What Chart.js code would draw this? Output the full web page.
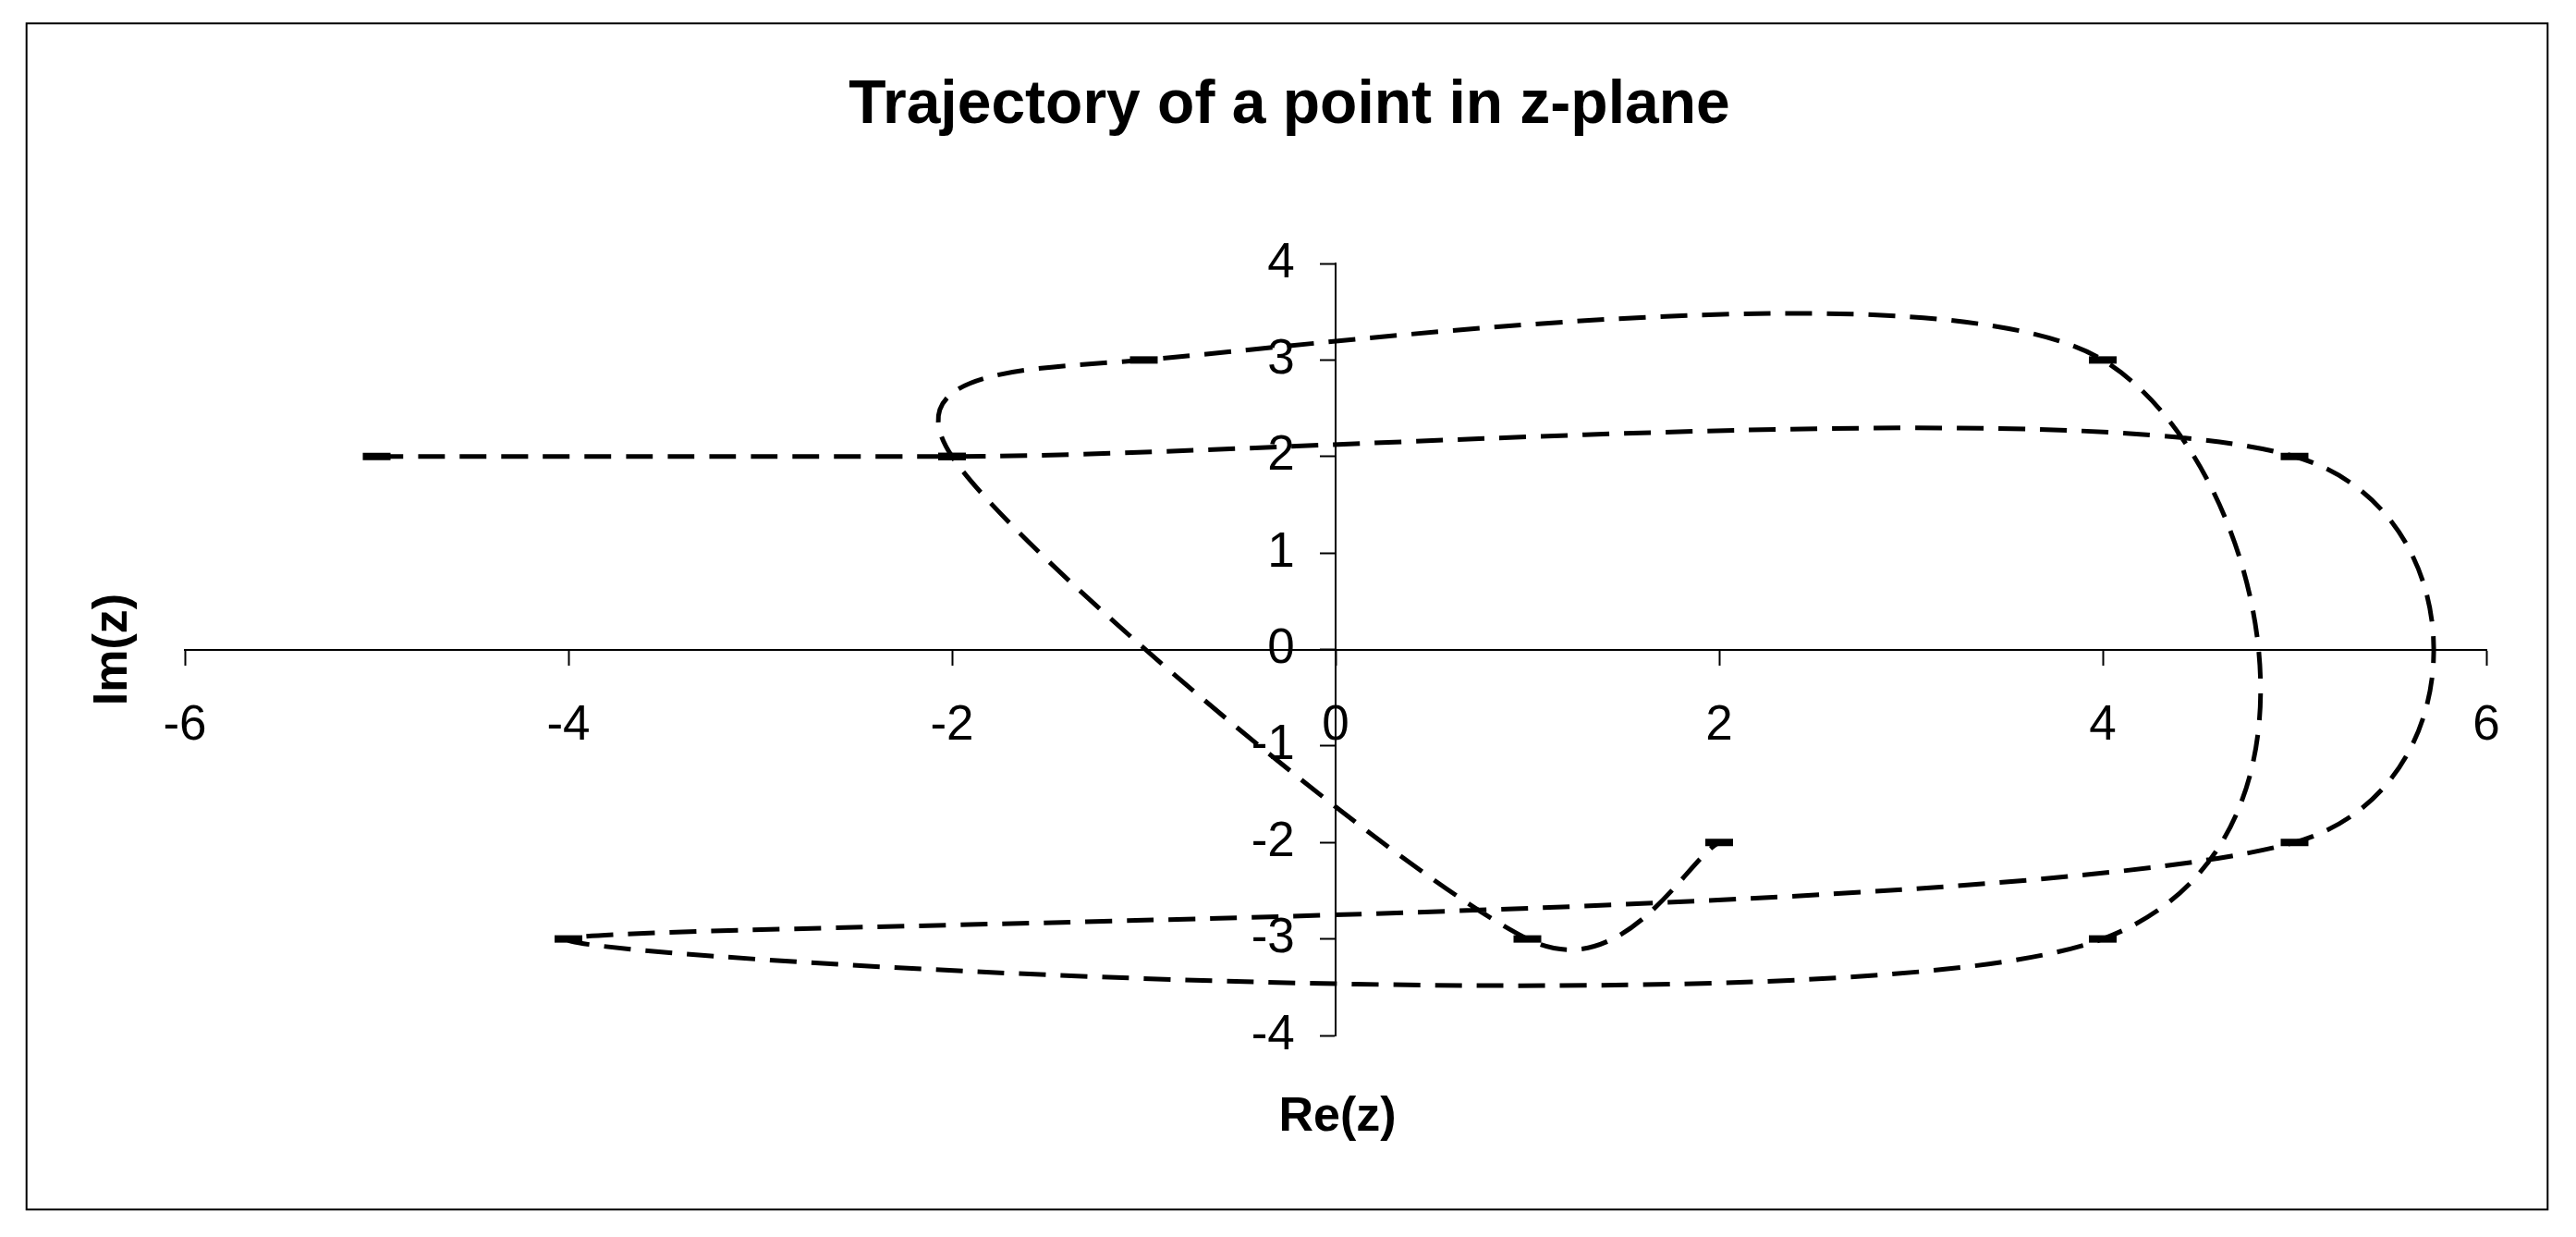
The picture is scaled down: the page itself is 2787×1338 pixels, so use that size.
<!DOCTYPE html>
<html>
<head>
<meta charset="utf-8">
<script src="https://cdn.jsdelivr.net/npm/chart.js@4"></script>
<style>
  html, body { margin: 0; padding: 0; background: #fff; }
  canvas { display: block; }
</style>
</head>
<body>
<canvas id="chart" width="2787" height="1338"></canvas>
<script>
// Points visited by z, in order (Re, Im)
const reValues = [-5, -2, 5, 5, -4, 4, 4, -1, -2, 1, 2];
const imValues = [2, 2, 2, -2, -3, -3, 3, 3, 2, -3, -2];

const xTicks = [-6, -4, -2, 0, 2, 4, 6];
const yTicks = [4, 3, 2, 1, 0, -1, -2, -3, -4];

const chartTitle = 'Trajectory of a point in z-plane';
const xTitle = 'Re(z)';
const yTitle = 'Im(z)';

const FONT = '"Liberation Sans", Arial, sans-serif';

// Excel-like smoothing: control vector = (next - prev) / 6,
// limited to half of the adjoining segment
const excelSmooth = {
    id: 'excelSmooth',
    beforeDatasetDraw(chart, args) {
        const line = args.meta.dataset;
        const pts = args.meta.data;
        line.updateControlPoints(chart.chartArea, 'x');
        for (let i = 0; i < pts.length; i++) {
            const p = pts[i];
            const prev = pts[i - 1] || p;
            const next = pts[i + 1] || p;
            const vx = (next.x - prev.x) / 6;
            const vy = (next.y - prev.y) / 6;
            const len = Math.hypot(vx, vy) || 1;
            const kIn = Math.min(1, Math.hypot(p.x - prev.x, p.y - prev.y) / 2 / len);
            const kOut = Math.min(1, Math.hypot(next.x - p.x, next.y - p.y) / 2 / len);
            p.cp1x = p.x - vx * kIn;
            p.cp1y = p.y - vy * kIn;
            p.cp2x = p.x + vx * kOut;
            p.cp2y = p.y + vy * kOut;
        }
    }
};

// Frame, title and axis titles
const decorations = {
    id: 'decorations',
    beforeDraw(chart) {
        const ctx = chart.ctx;
        ctx.save();
        ctx.fillStyle = '#fff';
        ctx.fillRect(0, 0, chart.width, chart.height);
        ctx.restore();
    },
    afterDraw(chart) {
        const ctx = chart.ctx;
        const area = chart.chartArea;
        ctx.save();
        ctx.strokeStyle = '#000';
        ctx.lineWidth = 2;
        ctx.strokeRect(28.7, 25.3, 2727.6, 1283);

        ctx.fillStyle = '#000';
        ctx.textAlign = 'center';
        ctx.textBaseline = 'alphabetic';
        ctx.font = 'bold 66px ' + FONT;
        ctx.fillText(chartTitle, 1395, 133);

        ctx.font = 'bold 52px ' + FONT;
        ctx.fillText(xTitle, (area.left + area.right) / 2 + 2, 1223);

        ctx.translate(137, (area.top + area.bottom) / 2);
        ctx.rotate(-Math.PI / 2);
        ctx.fillText(yTitle, 0, 0);
        ctx.restore();
    }
};

const points = reValues.map((x, i) => ({ x: x, y: imValues[i] }));

const ctx = document.getElementById('chart').getContext('2d');
new Chart(ctx, {
    type: 'line',
    data: {
        datasets: [{
            data: points,
            borderColor: '#000',
            borderWidth: 5,
            borderDash: [29, 16],
            tension: 0.4,
            fill: false,
            pointStyle: 'line',
            pointRadius: 15,
            pointBorderWidth: 8,
            pointBorderColor: '#000',
            pointBackgroundColor: '#000',
            pointHoverRadius: 15
        }]
    },
    options: {
        responsive: false,
        animation: false,
        devicePixelRatio: 1,
        layout: {
            padding: { left: 200, right: 97, top: 285, bottom: 218 }
        },
        scales: {
            x: {
                type: 'linear',
                position: { y: 0 },
                min: -6,
                max: 6,
                afterBuildTicks: (axis) => { axis.ticks = xTicks.map(v => ({ value: v })); },
                ticks: {
                    color: '#000',
                    font: { family: FONT, size: 53 },
                    padding: 35,
                    maxRotation: 0
                },
                grid: {
                    drawOnChartArea: false,
                    drawTicks: true,
                    tickLength: 16,
                    tickColor: '#000',
                    tickWidth: 2
                },
                border: { display: true, color: '#000', width: 2 }
            },
            y: {
                type: 'linear',
                position: { x: 0 },
                min: -4,
                max: 4,
                afterBuildTicks: (axis) => { axis.ticks = yTicks.map(v => ({ value: v })); },
                ticks: {
                    color: '#000',
                    font: { family: FONT, size: 53 },
                    // axis placed by value gets no label padding, so pad with spaces
                    callback: (v) => v + '   '
                },
                grid: {
                    drawOnChartArea: false,
                    drawTicks: true,
                    tickLength: 16,
                    tickColor: '#000',
                    tickWidth: 2
                },
                border: { display: true, color: '#000', width: 2 }
            }
        },
        plugins: {
            legend: { display: false },
            tooltip: { enabled: false },
            title: { display: false }
        }
    },
    plugins: [excelSmooth, decorations]
});
</script>
</body>
</html>
